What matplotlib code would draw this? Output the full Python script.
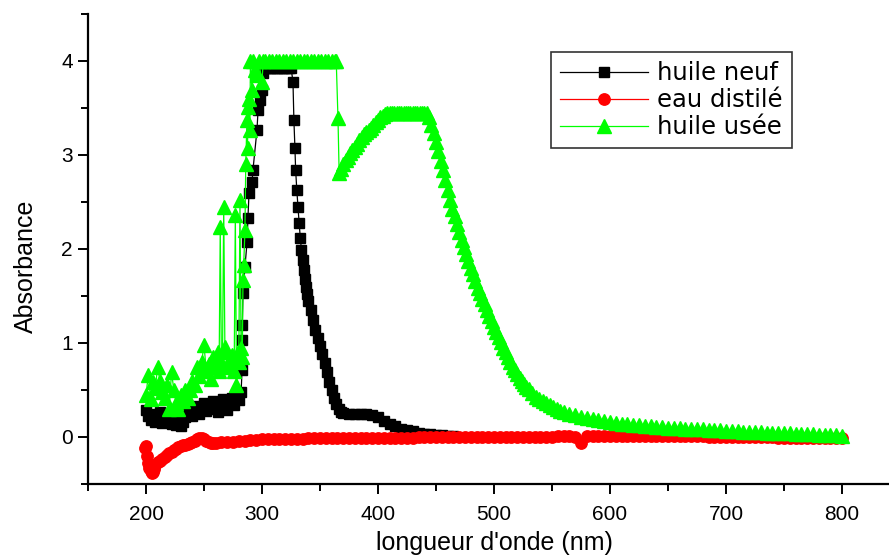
import matplotlib
matplotlib.use("Agg")
import matplotlib.pyplot as plt
from matplotlib.ticker import MultipleLocator

plt.rcParams['font.family'] = ['Liberation Sans', 'DejaVu Sans']

# ---------------- data ----------------
neuf_x = [200, 202, 204, 206, 208, 210, 212, 214, 216, 218, 220, 222, 224, 226,
          228, 230, 232, 234, 236, 238, 240, 242, 244, 246, 248, 250, 252, 254,
          256, 258, 260, 262, 264, 266, 268, 270, 272, 274, 276, 278, 280, 282,
          282.8, 282.9, 283.0, 283.6, 285.3, 287.1, 287.9, 288.8, 291.4, 292.2,
          295.7, 296.6, 298.3, 300.0, 300.9,
          303, 305, 307, 309, 311, 313, 315, 317, 319, 321, 323, 325,
          326.7, 327.5, 328.4, 329, 330, 331, 332, 333, 334, 335, 336, 337, 338,
          339, 340, 342, 344, 346, 348, 350, 352, 354, 356, 358, 360, 362, 364,
          366, 368, 370, 375, 380, 385, 390, 395, 400, 405, 410, 415, 420, 425,
          430, 435, 440, 445, 450, 455, 460, 465]
neuf_y = [0.29, 0.22, 0.18, 0.24, 0.16, 0.20, 0.27, 0.15, 0.22, 0.19, 0.25, 0.14, 0.20, 0.13,
          0.17, 0.12, 0.16, 0.21, 0.26, 0.30, 0.22, 0.28, 0.33, 0.25, 0.31, 0.36, 0.28, 0.34,
          0.30, 0.38, 0.32, 0.27, 0.35, 0.40, 0.33, 0.29, 0.37, 0.42, 0.34, 0.45, 0.39, 0.48,
          0.71, 1.03, 1.19, 1.53, 1.81, 2.07, 2.33, 2.60, 2.71, 2.84,
          3.27, 3.48, 3.59, 3.69, 3.87,
          3.93, 3.93, 3.93, 3.93, 3.93, 3.93, 3.93, 3.93, 3.93, 3.93, 3.93, 3.93,
          3.78, 3.37, 3.07, 2.84, 2.63, 2.45, 2.28, 2.12, 1.99, 1.88, 1.78, 1.68, 1.60,
          1.52, 1.45, 1.35, 1.25, 1.14, 1.05, 0.97, 0.88, 0.79, 0.69, 0.59, 0.50, 0.42, 0.35,
          0.30, 0.27, 0.26, 0.25, 0.25, 0.25, 0.24, 0.23, 0.21, 0.17, 0.14, 0.12, 0.09, 0.07,
          0.06, 0.04, 0.03, 0.03, 0.02, 0.02, 0.01, 0.01]

eau_x = [199, 200, 201, 202, 203, 204, 205, 206, 207, 208, 210, 212, 214, 216, 218,
         220, 222, 224, 226, 228, 230, 232, 234, 236, 238, 240, 242, 244, 246, 248,
         250, 252, 254, 256, 258, 260, 265, 270, 275, 280, 285, 290, 295,
         300, 305, 310, 315, 320, 325, 330, 335, 340, 345, 350, 355, 360, 365, 370,
         375, 380, 385, 390, 395, 400, 405, 410, 415, 420, 425, 430, 435, 440, 445,
         450, 455, 460, 465, 470, 475, 480, 485, 490, 495, 500, 505, 510, 515, 520,
         525, 530, 535, 540, 545, 550, 555, 560, 565, 570, 575, 580, 585, 590, 595,
         600, 605, 610, 615, 620, 625, 630, 635, 640, 645, 650, 655, 660, 665, 670,
         675, 680, 685, 690, 695, 700, 705, 710, 715, 720, 725, 730, 735, 740, 745,
         750, 755, 760, 765, 770, 775, 780, 785, 790, 795, 800]
eau_y = [-0.12, -0.10, -0.20, -0.28, -0.33, -0.36, -0.38, -0.37, -0.34, -0.30, -0.27, -0.25,
         -0.23, -0.21, -0.19, -0.17, -0.16, -0.14, -0.13, -0.11, -0.10, -0.09, -0.08, -0.07,
         -0.06, -0.05, -0.04, -0.02, -0.01, -0.01, -0.02, -0.04, -0.05, -0.06, -0.06, -0.06,
         -0.055, -0.05, -0.05, -0.045, -0.04, -0.035, -0.03,
         -0.025, -0.022, -0.020, -0.020, -0.018, -0.018, -0.017, -0.016, -0.015, -0.015,
         -0.014, -0.013, -0.013, -0.012, -0.012, -0.011, -0.011, -0.010, -0.010, -0.009,
         -0.009, -0.008, -0.008, -0.007, -0.007, -0.006, -0.006, -0.005, -0.005, -0.004,
         -0.004, -0.003, -0.003, -0.002, -0.002, -0.001, 0.000, 0.000, 0.000, 0.001,
         0.001, 0.002, 0.002, 0.003, 0.003, 0.003, 0.004, 0.004, 0.005, 0.005, 0.005,
         0.006, 0.006, 0.006, 0.005, -0.060, 0.006, 0.007, 0.008, 0.009,
         0.010, 0.010, 0.011, 0.011, 0.012, 0.012, 0.012, 0.012, 0.012, 0.011, 0.011,
         0.010, 0.010, 0.009, 0.008, 0.007, 0.006, 0.005, 0.004, 0.003, 0.002, 0.001,
         0.000, -0.001, -0.002, -0.003, -0.004, -0.005, -0.005, -0.006, -0.006, -0.007,
         -0.007, -0.008, -0.008, -0.008, -0.009, -0.009, -0.010, -0.010, -0.010]

usee_x = [200, 202, 204, 206, 208, 210, 212, 214, 216, 218, 220, 222, 224, 226, 228,
          230, 232, 234, 236, 238, 240, 242, 244, 246, 248, 250, 252, 254, 256, 258,
          260, 262, 263, 264, 265, 266, 267, 268, 270, 272, 274, 276, 277, 278, 279,
          280, 281, 282, 283, 283.6, 284.2, 285.3, 286, 287, 287.5, 288, 288.5, 289.6,
          290, 291.4, 292, 294, 295.7, 297, 300, 301,
          303, 306, 309, 312, 315, 318, 321, 324, 327, 330, 333, 336, 339, 342, 345,
          348, 351, 354, 357, 360, 363, 364, 365.5, 366.5,
          368, 370, 372, 374, 376, 378, 380, 382, 384, 386, 388, 390, 392, 394, 396,
          398, 400, 402, 404, 406, 408, 410, 412, 414, 416, 418, 420, 422, 424, 426,
          428, 430, 432, 434, 436, 438, 440, 442,
          444, 446, 448, 450, 452, 454, 456, 458, 460, 462, 464, 466, 468, 470, 472,
          474, 476, 478, 480, 482, 484, 486, 488, 490, 492, 494, 496, 498, 500, 502,
          504, 506, 508, 510, 512, 514, 516, 518, 520, 522, 524, 526, 528, 530, 533,
          536, 539, 542, 545, 548, 551, 554, 557, 560, 565, 570, 575, 580, 585, 590,
          595, 600, 605, 610, 615, 620, 625, 630, 635, 640, 645, 650, 655, 660, 665,
          670, 675, 680, 685, 690, 695, 700, 705, 710, 715, 720, 725, 730, 735, 740,
          745, 750, 755, 760, 765, 770, 775, 780, 785, 790, 795, 800]
usee_y = [0.45, 0.66, 0.40, 0.58, 0.52, 0.74, 0.60, 0.48, 0.42, 0.55, 0.30, 0.69, 0.50, 0.36, 0.30,
          0.45, 0.38, 0.50, 0.42, 0.50, 0.60, 0.55, 0.74, 0.65, 0.80, 0.98, 0.70, 0.78, 0.62, 0.85,
          0.75, 0.90, 0.70, 2.23, 0.80, 0.90, 2.45, 0.96, 0.75, 0.82, 0.87, 0.70, 2.36, 0.55, 0.90,
          0.80, 2.52, 0.95, 0.85, 1.67, 1.83, 2.20, 2.90, 3.37, 3.07, 3.51, 3.60, 3.27,
          4.00, 3.69, 4.00, 3.90, 3.85, 4.00, 3.78, 4.00,
          4.00, 4.00, 4.00, 4.00, 4.00, 4.00, 4.00, 4.00, 4.00, 4.00, 4.00, 4.00, 4.00, 4.00, 4.00,
          4.00, 4.00, 4.00, 4.00, 4.00, 4.00, 4.00, 3.39, 2.81,
          2.85, 2.90, 2.95, 2.98, 3.02, 3.05, 3.09, 3.12, 3.16, 3.19, 3.22, 3.25, 3.27, 3.29, 3.32,
          3.35, 3.37, 3.40, 3.42, 3.44, 3.45, 3.45, 3.45, 3.45, 3.45, 3.45, 3.45, 3.45, 3.45, 3.45,
          3.45, 3.45, 3.45, 3.45, 3.45, 3.45, 3.45, 3.45,
          3.40, 3.32, 3.23, 3.14, 3.04, 2.94, 2.84, 2.73, 2.63, 2.52, 2.43, 2.35, 2.27, 2.18, 2.10,
          2.02, 1.95, 1.87, 1.80, 1.73, 1.66, 1.59, 1.53, 1.47, 1.41, 1.35, 1.29, 1.23, 1.17, 1.12,
          1.06, 1.01, 0.95, 0.90, 0.85, 0.80, 0.75, 0.71, 0.67, 0.63, 0.60, 0.56, 0.53, 0.51, 0.47,
          0.43, 0.40, 0.38, 0.36, 0.34, 0.32, 0.30, 0.28, 0.27, 0.25, 0.23, 0.21, 0.20, 0.19, 0.18,
          0.17, 0.16, 0.15, 0.14, 0.135, 0.13, 0.125, 0.12, 0.115, 0.11, 0.105, 0.10, 0.097, 0.094, 0.09,
          0.087, 0.084, 0.08, 0.077, 0.074, 0.07, 0.067, 0.064, 0.06, 0.058, 0.055, 0.052, 0.05, 0.047, 0.045,
          0.042, 0.04, 0.038, 0.035, 0.033, 0.03, 0.028, 0.025, 0.023, 0.02, 0.018, 0.015]

labels = ["huile neuf", "eau distilé", "huile usée"]
x_label = "longueur d'onde (nm)"
y_label = "Absorbance"

# ---------------- figure ----------------
W, H = 889, 558
fig = plt.figure(figsize=(W / 100, H / 100), dpi=100)
ax = fig.add_axes([88 / W, (H - 484) / H, (900 - 88) / W, 470 / H])

ax.plot(neuf_x, neuf_y, color='black', lw=0.9, marker='s', ms=7.8,
        mec='black', mfc='black', label=labels[0], zorder=2)
ax.plot(eau_x, eau_y, color='red', lw=0.9, marker='o', ms=8.2,
        mec='red', mfc='red', label=labels[1], zorder=3)
ax.plot(usee_x, usee_y, color='#00ff00', lw=0.9, marker='^', ms=10.5,
        mec='#00ff00', mfc='#00ff00', label=labels[2], zorder=4)

ax.set_xlim(150, 850)
ax.set_ylim(-0.5, 4.5)
ax.xaxis.set_major_locator(MultipleLocator(100))
ax.xaxis.set_minor_locator(MultipleLocator(50))
ax.yaxis.set_major_locator(MultipleLocator(1))
ax.yaxis.set_minor_locator(MultipleLocator(0.5))
ax.set_xticks([200, 300, 400, 500, 600, 700, 800])

for s in ('top', 'right'):
    ax.spines[s].set_visible(False)
for s in ('left', 'bottom'):
    ax.spines[s].set_linewidth(1.6)

ax.tick_params(which='major', direction='out', length=7, width=1.4,
               labelsize=15, pad=4)
ax.tick_params(which='minor', direction='out', length=5, width=1.4)
ax.tick_params(axis='x', which='major', pad=8)

ax.set_xlabel(x_label, fontsize=18)
ax.xaxis.set_label_coords(0.5, -0.1)
ax.set_ylabel(y_label, fontsize=18)
ax.yaxis.set_label_coords(-0.062, 0.464)

leg = ax.legend(loc='upper left', bbox_to_anchor=(551 / W, 1 - 52 / H),
                bbox_transform=fig.transFigure, borderaxespad=0,
                prop={'family': 'DejaVu Sans', 'size': 17.5},
                numpoints=1, handlelength=3.6,
                handletextpad=0.4, labelspacing=0.12, borderpad=0.38,
                fancybox=False, framealpha=1, edgecolor='#333333')
leg.get_frame().set_linewidth(1.2)

fig.savefig("out.png", dpi=100)
